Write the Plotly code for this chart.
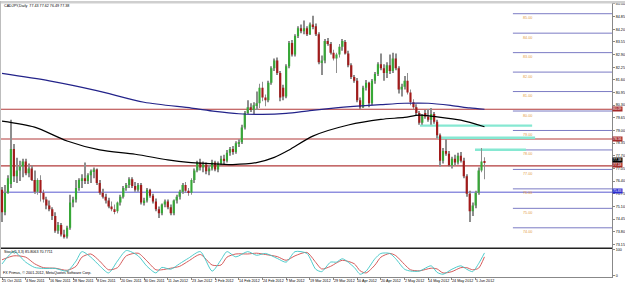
import plotly.graph_objects as go

W, H = 625, 285

# ---------------- data ----------------
opens = [75.95, 74.80, 75.80, 76.25, 78.05, 76.65, 76.95, 77.15, 77.40, 76.80,
         77.05, 76.45, 75.85, 76.45, 75.80, 75.45, 75.15, 74.95, 74.60, 73.85,
         74.15, 73.65, 73.55, 74.00, 75.30, 75.45, 76.05, 76.45, 76.55, 76.40,
         76.70, 76.90, 77.00, 76.30, 75.80, 75.60, 75.40, 75.10, 74.95, 74.85,
         75.30, 75.60, 76.05, 76.20, 76.50, 76.15, 75.95, 76.20, 75.30, 75.40,
         75.95, 75.65, 75.35, 74.95, 74.75, 75.20, 75.35, 75.05, 74.75, 75.40,
         75.60, 75.85, 76.20, 75.90, 75.80, 76.45, 76.95, 77.35, 77.10, 77.25,
         76.90, 77.05, 77.35, 77.00, 77.30, 77.55, 77.45, 77.85, 78.05, 77.90,
         78.35, 78.40, 79.15, 79.90, 80.20, 80.05, 80.30, 80.40, 81.20, 80.70,
         80.55, 81.45, 82.20, 82.60, 81.95, 81.20, 80.75, 82.30, 83.50, 82.90,
         83.85, 84.25, 84.10, 84.25, 83.95, 84.45, 84.35, 83.95, 82.50, 82.60,
         83.60, 83.45, 83.00, 82.70, 82.90, 83.30, 83.55, 82.95, 82.35, 81.75,
         81.55, 80.55, 80.20, 81.20, 81.45, 80.40, 81.55, 81.90, 82.40, 82.20,
         81.95, 82.35, 82.05, 82.70, 82.20, 81.10, 81.25, 81.55, 80.95, 80.45,
         80.20, 79.90, 79.40, 79.90, 79.70, 79.55, 79.85, 79.45, 78.75, 77.45,
         77.95, 77.80, 77.20, 77.55, 77.35, 77.70, 77.45, 76.65, 75.75, 74.85,
         75.15, 75.80, 76.95, 77.43]
highs = [76.10, 76.20, 76.70, 79.55, 78.30, 77.60, 77.45, 77.55, 77.55, 77.30,
         77.20, 76.95, 76.55, 76.70, 75.95, 75.60, 75.40, 75.05, 74.80, 74.30,
         74.25, 73.90, 74.10, 75.70, 75.60, 76.45, 76.55, 76.75, 77.35, 76.80,
         77.00, 77.10, 77.05, 76.45, 76.00, 75.75, 75.55, 75.35, 75.20, 75.35,
         75.70, 76.15, 76.30, 76.60, 76.60, 76.35, 76.30, 76.30, 75.55, 76.05,
         76.00, 75.75, 75.50, 75.10, 75.25, 75.45, 75.45, 75.20, 75.45, 75.70,
         75.95, 76.30, 76.35, 76.05, 76.55, 77.05, 77.45, 77.55, 77.40, 77.35,
         77.20, 77.50, 77.45, 77.40, 77.70, 77.75, 78.00, 78.15, 78.20, 78.45,
         78.55, 79.30, 80.00, 80.55, 80.40, 80.45, 81.00, 81.40, 81.50, 80.85,
         81.55, 82.30, 82.70, 82.75, 82.05, 81.35, 82.40, 83.60, 83.65, 83.95,
         84.35, 84.45, 84.65, 84.35, 84.55, 84.90, 84.50, 84.05, 82.85, 83.70,
         83.75, 83.55, 83.15, 83.00, 83.45, 83.70, 83.65, 83.10, 82.45, 81.85,
         81.70, 80.70, 81.30, 81.60, 81.50, 81.65, 82.00, 82.50, 82.95, 82.40,
         82.50, 82.90, 83.00, 82.95, 82.30, 81.40, 81.80, 81.95, 81.10, 80.60,
         80.35, 80.00, 79.85, 80.05, 80.10, 80.15, 79.95, 79.55, 78.85, 78.10,
         78.55, 77.95, 77.65, 77.75, 77.85, 77.90, 77.60, 76.75, 75.90, 75.30,
         75.90, 77.10, 78.10, 77.62]
lows = [74.30, 74.65, 75.75, 76.05, 76.35, 76.30, 76.40, 76.60, 76.70, 76.60,
        76.40, 75.75, 75.70, 75.35, 75.30, 74.95, 74.85, 74.40, 73.75, 73.70,
        73.55, 73.45, 73.45, 73.90, 75.05, 75.30, 75.90, 76.05, 76.25, 76.25,
        76.30, 76.55, 76.20, 75.70, 75.50, 75.25, 75.00, 74.85, 74.70, 74.75,
        75.15, 75.50, 75.90, 76.05, 76.05, 75.85, 75.85, 75.20, 75.15, 75.30,
        75.55, 75.25, 74.85, 74.50, 74.65, 75.05, 74.95, 74.65, 74.65, 75.25,
        75.45, 75.75, 75.80, 75.65, 75.70, 76.30, 76.85, 76.95, 76.85, 76.75,
        76.70, 76.95, 76.90, 76.85, 77.20, 77.25, 77.35, 77.70, 77.75, 77.80,
        78.15, 78.30, 79.05, 79.85, 79.95, 79.85, 80.05, 80.15, 80.50, 80.25,
        80.45, 81.35, 82.05, 81.85, 80.50, 80.55, 80.65, 82.20, 82.80, 82.80,
        83.75, 84.00, 83.95, 83.85, 83.90, 84.20, 83.85, 82.40, 81.85, 82.45,
        83.35, 82.90, 82.60, 81.95, 82.75, 83.10, 82.90, 82.25, 81.65, 81.45,
        80.45, 80.10, 80.15, 81.05, 80.20, 80.30, 81.40, 81.80, 82.10, 81.55,
        81.70, 81.90, 81.95, 82.10, 80.90, 80.75, 81.10, 80.85, 80.30, 80.10,
        79.80, 79.30, 79.30, 79.60, 79.45, 79.30, 79.35, 78.60, 77.15, 77.30,
        77.70, 77.15, 77.05, 77.20, 77.25, 77.35, 76.55, 75.60, 74.30, 74.60,
        75.00, 75.70, 76.85, 76.49]
closes = [74.80, 75.80, 76.55, 78.05, 76.65, 76.95, 77.15, 77.40, 76.80, 77.05,
          76.45, 75.85, 76.45, 75.80, 75.45, 75.15, 74.95, 74.60, 73.85, 74.15,
          73.65, 73.55, 74.00, 75.30, 75.45, 76.05, 76.45, 76.55, 76.40, 76.70,
          76.90, 77.00, 76.30, 75.80, 75.60, 75.40, 75.10, 74.95, 74.85, 75.30,
          75.60, 76.05, 76.20, 76.50, 76.15, 75.95, 76.20, 75.30, 75.40, 75.95,
          75.65, 75.35, 74.95, 74.75, 75.20, 75.35, 75.05, 74.75, 75.40, 75.60,
          75.85, 76.20, 75.90, 75.80, 76.45, 76.95, 77.35, 77.10, 77.25, 76.90,
          77.05, 77.35, 77.00, 77.30, 77.55, 77.45, 77.85, 78.05, 77.90, 78.35,
          78.40, 79.15, 79.90, 80.20, 80.05, 80.30, 80.40, 81.20, 80.70, 80.55,
          81.45, 82.20, 82.60, 81.95, 80.70, 80.75, 82.30, 83.50, 82.90, 83.85,
          84.25, 84.10, 84.25, 83.95, 84.45, 84.35, 83.95, 82.50, 82.60, 83.60,
          83.45, 83.00, 82.70, 82.90, 83.30, 83.60, 82.95, 82.35, 81.75, 81.55,
          80.55, 80.20, 81.20, 81.45, 80.40, 81.55, 81.90, 82.40, 82.20, 81.95,
          82.35, 82.05, 82.70, 82.20, 81.10, 81.25, 81.55, 80.95, 80.45, 80.20,
          79.90, 79.40, 79.75, 79.70, 79.55, 79.85, 79.45, 78.75, 77.45, 77.95,
          77.80, 77.20, 77.55, 77.35, 77.70, 77.45, 76.65, 75.75, 74.85, 75.15,
          75.80, 76.95, 77.40, 77.38]

# moving averages read at sample bars
blue_ma_bars = [0, 16, 32, 48, 64, 72, 80, 88, 96, 104, 112, 120, 128, 136, 144, 152, 158, 163]
blue_ma_vals = [81.93, 81.55, 81.05, 80.45, 80.15, 79.98, 79.86, 79.83, 79.88, 80.02,
                80.15, 80.25, 80.33, 80.40, 80.40, 80.28, 80.16, 80.09]
black_ma_bars = [0, 11, 22, 33, 45, 56, 63, 70, 78, 86, 92, 97, 105, 117, 128, 136, 141, 147, 155, 163]
black_ma_vals = [79.48, 79.17, 78.46, 78.00, 77.78, 77.49, 77.36, 77.30, 77.25, 77.35,
                 77.62, 78.00, 78.71, 79.28, 79.57, 79.67, 79.79, 79.70, 79.53, 79.19]

# stochastic (5,3,3)
stoch_bars = [0, 4, 8, 11, 14, 18, 22, 25, 27, 30, 33, 36, 39, 42, 46, 49, 52, 54, 57, 60,
              63, 67, 71, 74, 76, 79, 83, 86, 89, 93, 96, 99, 103, 106, 108, 111, 113, 115,
              119, 121, 123, 126, 128, 131, 133, 136, 138, 141, 145, 147, 149, 152, 155,
              157, 159, 161, 163]
stoch_main = [44, 91, 51, 31, 27, 27, 17, 55, 91, 70, 37, 10, 55, 95, 75, 35, 10, 31, 24, 45,
              66, 91, 17, 60, 91, 71, 91, 77, 84, 65, 51, 91, 84, 24, 15, 51, 51, 64,
              31, 5, 17, 64, 84, 84, 64, 24, 17, 17, 37, 12, 5, 24, 37,
              24, 15, 45, 86]
stoch_signal = [60, 75, 70, 45, 30, 28, 20, 35, 70, 82, 55, 22, 30, 75, 85, 55, 22, 22, 28, 35,
                55, 80, 40, 40, 70, 82, 82, 85, 80, 72, 58, 75, 88, 50, 25, 35, 48, 58,
                45, 18, 10, 40, 70, 84, 76, 42, 22, 18, 28, 25, 10, 15, 30,
                30, 22, 28, 71]

# horizontal levels
red_levels = [80.09, 78.56, 77.18]
blue_levels = [75.83]
round_levels = [85, 84, 83, 82, 81, 80, 79, 78, 77, 76, 75, 74]
round_labels = ["85.00", "84.00", "83.00", "82.00", "81.00", "80.00",
                "79.00", "78.00", "77.00", "76.00", "75.00", "74.00"]

# cyan zones (start bar, end bar, top, bottom)
zone_start = [141.2, 147.3, 159.8]
zone_end = [179.1, 180.1, 177.0]
zone_top = [79.31, 78.69, 78.07]
zone_bottom = [79.19, 78.56, 77.94]

# price axis ticks
axis_ticks = [85.50, 84.85, 84.20, 83.55, 82.90, 82.25, 81.60, 80.95, 80.30, 79.65,
              79.00, 78.35, 77.70, 77.05, 76.40, 75.75, 75.10, 74.45, 73.80, 73.15]

# right-axis price boxes
box_prices = [80.09, 78.56, 77.18, 77.38, 75.83]
box_colors = ["#a52a2a", "#a52a2a", "#a52a2a", "#000000", "#2b2bd0"]
box_shift = [0.5, 0, 1.2, 1.6, 1.5]   # pixel nudges so boxes sit as in the reference

# date labels
date_bars = [0, 8, 16, 24, 32, 40, 48, 56, 64, 72, 80, 88, 96, 104, 112, 120, 128, 136, 144, 152, 160]
date_labels = ["25 Oct 2011", "4 Nov 2011", "16 Nov 2011", "28 Nov 2011", "8 Dec 2011",
               "20 Dec 2011", "30 Dec 2011", "11 Jan 2012", "23 Jan 2012", "2 Feb 2012",
               "14 Feb 2012", "24 Feb 2012", "7 Mar 2012", "19 Mar 2012", "29 Mar 2012",
               "10 Apr 2012", "20 Apr 2012", "2 May 2012", "14 May 2012", "24 May 2012",
               "5 Jun 2012"]

header_text = "CADJPY,Daily  77.43 77.62 76.49 77.38"
stoch_text = "Stoch(5,3,3) 85.8063 70.7711"
copyright_text = "FX Primus, \u00a9 2001-2012, MetaQuotes Software Corp."

# ---------------- styling ----------------
FONT = "Liberation Sans"
FS = 3.7
BOX_FS = 3.4
UP = "#37a837"
DN = "#a31a1a"
WICK = "#8e8e8e"
ROUND_COLOR = "#7b7bc4"
LEVEL_START = 172.6   # bar position where the round-number lines begin
LABEL_POS = 177.7     # bar position of their labels

x_right = 612 / W
main_bottom = 1 - 249 / H
stoch_bottom = 1 - 278 / H
x_range = [-0.676, 206.08]
y_range = [72.949, 85.653]
y2_range = [-5.66, 103.77]

idx = list(range(len(opens)))

fig = go.Figure()

# wicks (thin bars from low to high)
fig.add_trace(go.Bar(x=idx, y=[h - l for h, l in zip(highs, lows)], base=lows, width=0.3,
                     marker=dict(color=WICK, line=dict(width=0)),
                     hoverinfo="skip", showlegend=False, xaxis="x", yaxis="y"))
# bodies
body_base = [min(o, c) for o, c in zip(opens, closes)]
body_h = [max(abs(c - o), 0.03) for o, c in zip(opens, closes)]
body_col = [UP if c >= o else DN for o, c in zip(opens, closes)]
fig.add_trace(go.Bar(x=idx, y=body_h, base=body_base, width=0.72,
                     marker=dict(color=body_col, line=dict(width=0)),
                     hoverinfo="skip", showlegend=False, xaxis="x", yaxis="y"))

# moving averages
fig.add_trace(go.Scatter(x=blue_ma_bars, y=blue_ma_vals, mode="lines",
                         line=dict(color="#23238a", width=1.2, shape="spline", smoothing=0.8),
                         hoverinfo="skip", showlegend=False, xaxis="x", yaxis="y"))
fig.add_trace(go.Scatter(x=black_ma_bars, y=black_ma_vals, mode="lines",
                         line=dict(color="#000000", width=1.2, shape="spline", smoothing=0.8),
                         hoverinfo="skip", showlegend=False, xaxis="x", yaxis="y"))

# stochastic
fig.add_trace(go.Scatter(x=stoch_bars, y=stoch_signal, mode="lines",
                         line=dict(color="#d04a4a", width=0.9, shape="spline", smoothing=0.7),
                         hoverinfo="skip", showlegend=False, xaxis="x", yaxis="y2"))
fig.add_trace(go.Scatter(x=stoch_bars, y=stoch_main, mode="lines",
                         line=dict(color="#3cc6c6", width=0.9, shape="spline", smoothing=0.7),
                         hoverinfo="skip", showlegend=False, xaxis="x", yaxis="y2"))

shapes = []
# top grey band
shapes.append(dict(type="rect", xref="paper", yref="paper", x0=0, x1=1, y0=1 - 2.5 / H, y1=1,
                   fillcolor="#cfcfcf", line=dict(width=0), layer="above"))
# full-width red lines
for lv in red_levels:
    shapes.append(dict(type="line", xref="x", yref="y", x0=x_range[0], x1=x_range[1], y0=lv, y1=lv,
                       line=dict(color="#b23a3a", width=1.1), layer="below"))
for lv in blue_levels:
    shapes.append(dict(type="line", xref="x", yref="y", x0=x_range[0], x1=x_range[1], y0=lv, y1=lv,
                       line=dict(color="#5a5ad0", width=1), layer="below"))
# round-number lines on the right
for lv in round_levels:
    shapes.append(dict(type="line", xref="x", yref="y", x0=LEVEL_START, x1=x_range[1], y0=lv, y1=lv,
                       line=dict(color=ROUND_COLOR, width=1), layer="below"))
# cyan zones
for s, e, t, b in zip(zone_start, zone_end, zone_top, zone_bottom):
    shapes.append(dict(type="rect", xref="x", yref="y", x0=s, x1=e, y0=b, y1=t,
                       fillcolor="#86e8d2", line=dict(width=0), layer="below"))
# separator between main and indicator
shapes.append(dict(type="line", xref="paper", yref="paper", x0=0, x1=x_right,
                   y0=main_bottom, y1=main_bottom, line=dict(color="#222222", width=1.4)))
# left border
shapes.append(dict(type="line", xref="paper", yref="paper", x0=0.0008, x1=0.0008,
                   y0=stoch_bottom, y1=1, line=dict(color="#bdbdbd", width=1)))

annotations = []
small = dict(family=FONT, size=FS, color="#000000")
annotations.append(dict(text=header_text, xref="paper", yref="paper", x=2 / W, y=1 - 5 / H,
                        xanchor="left", yanchor="middle", showarrow=False, font=small))
annotations.append(dict(text=stoch_text, xref="paper", yref="paper", x=2 / W, y=1 - 253 / H,
                        xanchor="left", yanchor="middle", showarrow=False, font=small))
annotations.append(dict(text=copyright_text, xref="paper", yref="paper", x=1 / W, y=1 - 273.5 / H,
                        xanchor="left", yanchor="middle", showarrow=False, font=small))
for b, t in zip(date_bars, date_labels):
    annotations.append(dict(text=t, xref="x", yref="paper", x=b - 0.6, y=1 - 281.5 / H,
                            xanchor="left", yanchor="middle", showarrow=False, font=small))
for lv, t in zip(round_levels, round_labels):
    annotations.append(dict(text=t, xref="x", yref="y", x=LABEL_POS, y=lv,
                            xanchor="center", yanchor="top", yshift=-0.5, showarrow=False,
                            font=dict(family=FONT, size=FS, color="#e39b3c")))
for p, c, s in zip(box_prices, box_colors, box_shift):
    annotations.append(dict(text=f"{p:.2f}", xref="paper", yref="y", x=x_right, y=p,
                            xanchor="left", yanchor="middle", yshift=s, showarrow=False,
                            bgcolor=c, borderpad=0,
                            font=dict(family=FONT, size=BOX_FS, color="#ffffff")))

fig.update_layout(
    width=W, height=H, margin=dict(l=0, r=0, t=0, b=0),
    paper_bgcolor="white", plot_bgcolor="white", showlegend=False,
    barmode="overlay", hovermode=False,
    font=dict(family=FONT, size=FS, color="#000000"),
    xaxis=dict(domain=[0, x_right], range=x_range, anchor="y2", showgrid=False, zeroline=False,
               tickvals=date_bars, ticks="outside", ticklen=2,
               tickcolor="#888888", showticklabels=False, showline=True, linecolor="#888888",
               linewidth=1, fixedrange=True),
    yaxis=dict(domain=[main_bottom, 1], range=y_range, side="right", anchor="x", showgrid=False,
               zeroline=False, tickvals=axis_ticks, ticktext=[f"{v:.2f}" for v in axis_ticks],
               ticks="outside", ticklen=2, tickcolor="#888888", showline=True,
               linecolor="#888888", linewidth=1, tickfont=dict(family=FONT, size=FS)),
    yaxis2=dict(domain=[stoch_bottom, main_bottom], range=y2_range, side="right", anchor="x",
                showgrid=False, zeroline=False, tickvals=[0, 100], ticktext=["0", "100"],
                ticks="outside", ticklen=2, tickcolor="#888888", showline=True,
                linecolor="#888888", linewidth=1, tickfont=dict(family=FONT, size=FS)),
    shapes=shapes, annotations=annotations,
)

fig.write_html("out.html")
